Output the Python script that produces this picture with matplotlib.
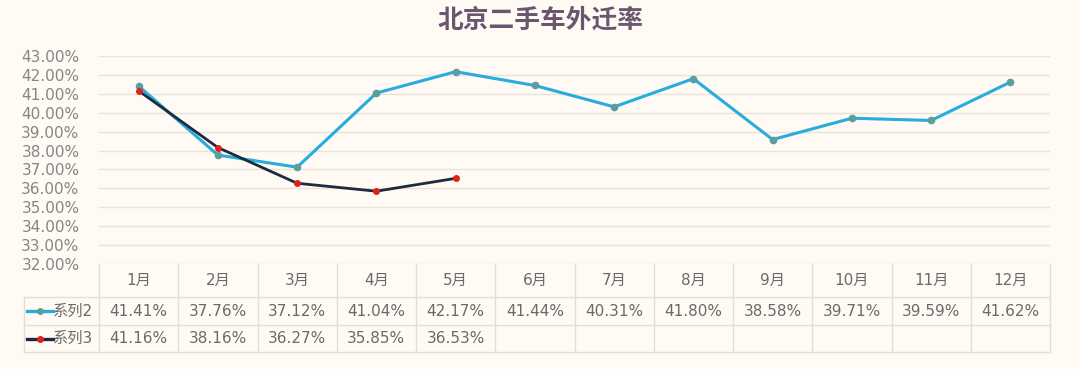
import matplotlib.pyplot as plt
import matplotlib.transforms as mtransforms
from matplotlib.ticker import FuncFormatter

plt.rcParams['font.family'] = ['DejaVu Sans', 'Noto Sans CJK SC']

title = '北京二手车外迁率'
months = ['1月', '2月', '3月', '4月', '5月', '6月', '7月', '8月', '9月', '10月', '11月', '12月']
series_names = ['系列2', '系列3']
s2 = [41.41, 37.76, 37.12, 41.04, 42.17, 41.44, 40.31, 41.80, 38.58, 39.71, 39.59, 41.62]
s3 = [41.16, 38.16, 36.27, 35.85, 36.53]
y_ticks = [32, 33, 34, 35, 36, 37, 38, 39, 40, 41, 42, 43]

bg = '#FFFBF4'
grid_c = '#E8E3DA'
text_c = '#858585'
s2_line, s2_mark = '#27ACDD', '#5B9EA0'
s3_line, s3_mark = '#1E2A3E', '#E0201B'

fig = plt.figure(figsize=(10.8, 3.69), dpi=100, facecolor=bg)
ax = fig.add_axes([99 / 1080, 1 - 264 / 369, 951 / 1080, 208 / 369])
ax.set_facecolor(bg)

x = list(range(len(months)))
ax.plot(x, s2, color=s2_line, lw=2.2, marker='o', ms=4.5, mfc=s2_mark, mec=s2_mark, zorder=3)
ax.plot(x[:len(s3)], s3, color=s3_line, lw=2.0, marker='o', ms=4, mfc=s3_mark, mec=s3_mark, zorder=4)

ax.set_xlim(-0.5, len(months) - 0.5)
ax.set_ylim(y_ticks[0], y_ticks[-1])
ax.set_yticks(y_ticks)
ax.yaxis.set_major_formatter(FuncFormatter(lambda v, p: f'{v:.2f}%'))
ax.tick_params(axis='y', length=0, pad=14, labelsize=11, labelcolor=text_c)
ax.set_xticks([])
ax.grid(axis='y', color=grid_c, lw=1)
for sp in ax.spines.values():
    sp.set_visible(False)

fig.text(0.5, 1 - 20 / 369, title, ha='center', va='center', fontsize=18.5,
         fontweight='bold', color='#6B5670', family=['Noto Sans CJK SC', 'DejaVu Sans'])

# data table under the plot
tr = mtransforms.blended_transform_factory(ax.transData, ax.transAxes)
rows = [0, -33 / 208, -61 / 208, -88 / 208]
lab_left = -0.5 - 75 / 79.25
line_c = '#E3DED5'
kw = dict(transform=tr, clip_on=False, color=line_c, lw=1)

for i in range(len(months) + 1):
    ax.plot([i - 0.5, i - 0.5], [rows[0], rows[3]], **kw)
ax.plot([lab_left, lab_left], [rows[1], rows[3]], **kw)
for r in rows[1:]:
    ax.plot([lab_left, len(months) - 0.5], [r, r], **kw)

cell_c = '#6A6A6A'
for i, m in enumerate(months):
    ax.text(i, (rows[0] + rows[1]) / 2, m, transform=tr, ha='center', va='center',
            fontsize=11, color=cell_c)
for vals, r0, r1 in [(s2, rows[1], rows[2]), (s3, rows[2], rows[3])]:
    for i, v in enumerate(vals):
        ax.text(i, (r0 + r1) / 2, f'{v:.2f}%', transform=tr, ha='center', va='center',
                fontsize=11, color=cell_c)

# legend keys in row labels
for name, lc, mc, r0, r1 in [(series_names[0], s2_line, s2_mark, rows[1], rows[2]),
                             (series_names[1], s3_line, s3_mark, rows[2], rows[3])]:
    ym = (r0 + r1) / 2
    ax.plot([lab_left + 0.04, lab_left + 0.36], [ym, ym], transform=tr, clip_on=False,
            color=lc, lw=2.4)
    ax.plot([lab_left + 0.20], [ym], transform=tr, clip_on=False, marker='o', ms=4,
            color=mc)
    ax.text(lab_left + 0.37, ym, name, transform=tr, ha='left', va='center',
            fontsize=11, color=cell_c)

fig.savefig('out.png', dpi=100, facecolor=bg)
